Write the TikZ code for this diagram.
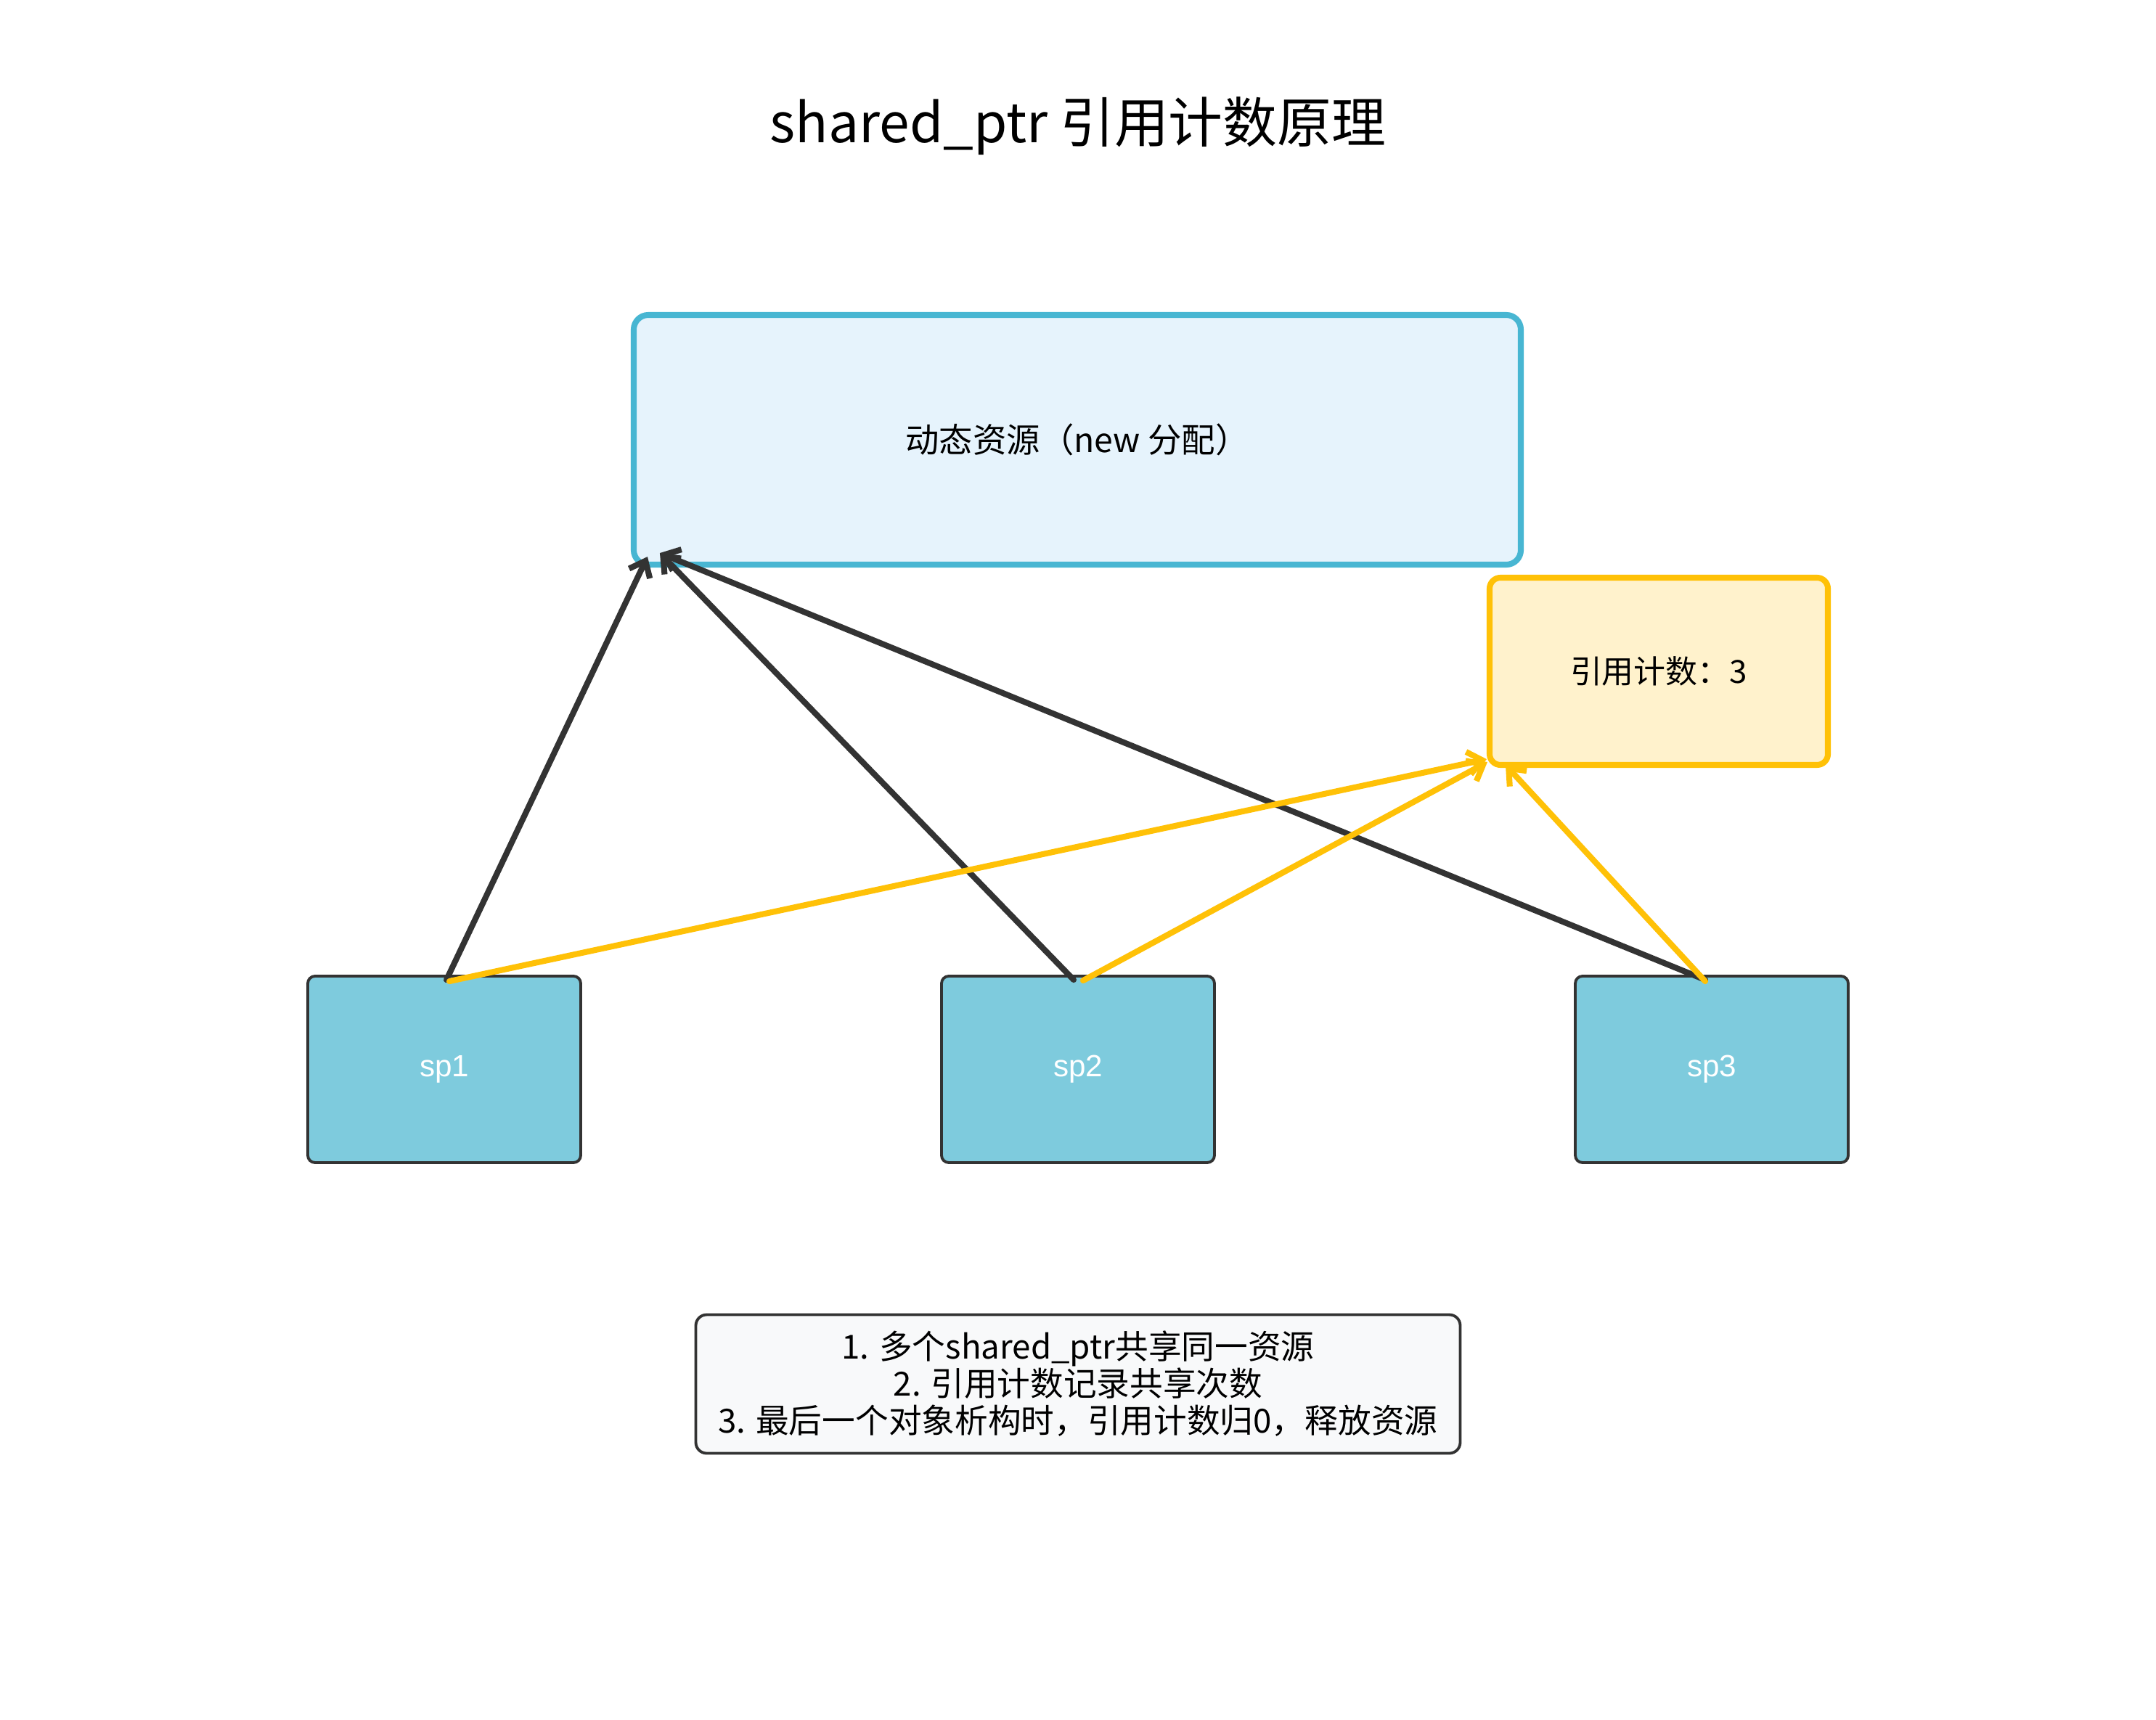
\documentclass[tikz,border=0pt]{standalone}
\usepackage{fontspec}
\setmainfont{Noto Sans CJK SC}
\newfontfamily\spfont{Liberation Sans}
\usetikzlibrary{arrows.meta,calc}
\definecolor{resfill}{HTML}{E6F3FC}
\definecolor{resdraw}{HTML}{48B6D2}
\definecolor{cntfill}{HTML}{FFF2CC}
\definecolor{cntdraw}{HTML}{FFC107}
\definecolor{spfill}{HTML}{7ECBDD}
\definecolor{darkline}{HTML}{333333}
\definecolor{notefill}{HTML}{F8F9FA}
\tikzset{
  resbox/.style={draw=resdraw, fill=resfill, line width=2.3pt, rounded corners=0.2cm, minimum width=12.22cm, minimum height=3.44cm, font=\fontsize{13.2}{15}\selectfont},
  cntbox/.style={draw=cntdraw, fill=cntfill, line width=2.3pt, rounded corners=0.15cm, minimum width=4.66cm, minimum height=2.58cm, font=\fontsize{12.5}{15}\selectfont},
  spbox/.style={draw=darkline, fill=spfill, line width=1.1pt, rounded corners=0.1cm, minimum width=3.76cm, minimum height=2.57cm, text=white, font=\spfont\fontsize{12}{14}\selectfont},
  notebox/.style={draw=darkline, fill=notefill, line width=1.1pt, rounded corners=0.15cm, minimum width=10.53cm, minimum height=1.91cm, align=center, font=\fontsize{13}{14.5}\selectfont},
  darkarrow/.style={draw=darkline, line width=2.3pt, line cap=round, -{Straight Barb[length=5.5pt,width=9pt]}},
  yelarrow/.style={draw=cntdraw, line width=2.3pt, line cap=round, -{Straight Barb[length=5.5pt,width=9pt]}},
}
\begin{document}
\begin{tikzpicture}
\useasboundingbox (0,0) rectangle (29.7,-23.7);
\node[font=\fontsize{21.3}{25}\selectfont] (title) at (14.85,-1.74) {shared\_ptr 引用计数原理};
\node[resbox] (res) at (14.84,-6.06) {动态资源（new 分配）};
\node[cntbox] (cnt) at (22.85,-9.25) {引用计数：3};
\node[spbox] (sp1) at (6.12,-14.735) {sp1};
\node[spbox] (sp2) at (14.85,-14.735) {sp2};
\node[spbox] (sp3) at (23.58,-14.735) {sp3};
\node[notebox] (note) at (14.85,-19.07) {1. 多个shared\_ptr共享同一资源\\2. 引用计数记录共享次数\\3. 最后一个对象析构时，引用计数归0，释放资源};
% dark arrows to resource
\draw[darkarrow] ($(sp1.north)+(0.03,-0.07)$) -- ($(res.south west)+(0.23,0.15)$);
\draw[darkarrow] ($(sp2.north)+(-0.06,-0.07)$) -- ($(res.south west)+(0.40,0.20)$);
\draw[darkarrow] ($(sp3.north)+(-0.09,-0.07)$) -- ($(res.south west)+(0.40,0.20)$);
% yellow arrows to count
\draw[yelarrow] ($(sp1.north)+(0.07,-0.09)$) -- ($(cnt.south west)+(0.0,0.12)$);
\draw[yelarrow] ($(sp2.north)+(0.07,-0.08)$) -- ($(cnt.south west)+(0.01,0.08)$);
\draw[yelarrow] ($(sp3.north)+(-0.09,-0.09)$) -- ($(cnt.south west)+(0.26,0.04)$);
\end{tikzpicture}
\end{document}
